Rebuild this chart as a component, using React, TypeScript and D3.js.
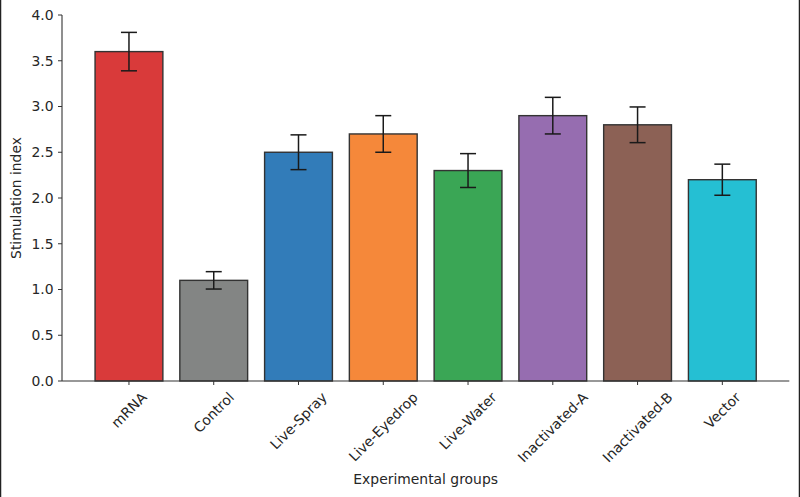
import { useEffect, useRef } from 'react'
import * as d3 from 'd3'

const W = 800, H = 497
const GROUPS = ['mRNA', 'Control', 'Live-Spray', 'Live-Eyedrop', 'Live-Water', 'Inactivated-A', 'Inactivated-B', 'Vector']
const VALUES = [3.6, 1.1, 2.5, 2.7, 2.3, 2.9, 2.8, 2.2]
const ERRORS = [0.21, 0.095, 0.19, 0.2, 0.185, 0.2, 0.195, 0.17]
const COLORS = ['#d93a3a', '#838584', '#327cb9', '#f5883a', '#3aa655', '#966db0', '#8c6155', '#25bfd3']
const Y_TICKS = [0, 0.5, 1, 1.5, 2, 2.5, 3, 3.5, 4]

const FONT = '"DejaVu Sans", sans-serif'
const FS = 13.9
const TXT = '#262626'
const AXIS = '#333333'

function textWidth(s: string) {
  const ctx = document.createElement('canvas').getContext('2d')!
  ctx.font = `${FS}px "DejaVu Sans"`
  return ctx.measureText(s).width
}

export default function App() {
  const svgRef = useRef<SVGSVGElement>(null)

  useEffect(() => {
    document.body.style.margin = '0'
    const svg = d3.select(svgRef.current)
    svg.selectAll('*').remove()

    const left = 62, right = 789.3, top = 15, bottom = 381
    const x = d3.scaleBand<string>().domain(GROUPS).range([left, right]).paddingInner(0.2).paddingOuter(0.39)
    const y = d3.scaleLinear([0, 4], [bottom, top])

    // figure border at the sides
    svg.append('line').attr('x1', 0.5).attr('x2', 0.5).attr('y1', 0).attr('y2', H).attr('stroke', '#222').attr('stroke-width', 1.5)
    svg.append('line').attr('x1', W - 0.5).attr('x2', W - 0.5).attr('y1', 0).attr('y2', H).attr('stroke', '#222').attr('stroke-width', 1.5)

    // bars
    GROUPS.forEach((g, i) => {
      svg.append('rect')
        .attr('x', x(g)!).attr('y', y(VALUES[i]))
        .attr('width', x.bandwidth()).attr('height', y(0) - y(VALUES[i]))
        .attr('fill', COLORS[i]).attr('stroke', '#333').attr('stroke-width', 1.4)
    })

    // error bars
    GROUPS.forEach((g, i) => {
      const cx = x(g)! + x.bandwidth() / 2
      const y1 = y(VALUES[i] + ERRORS[i]), y2 = y(VALUES[i] - ERRORS[i])
      const e = svg.append('g').attr('stroke', '#1a1a1a').attr('stroke-width', 1.5)
      e.append('line').attr('x1', cx).attr('x2', cx).attr('y1', y1).attr('y2', y2)
      e.append('line').attr('x1', cx - 8).attr('x2', cx + 8).attr('y1', y1).attr('y2', y1)
      e.append('line').attr('x1', cx - 8).attr('x2', cx + 8).attr('y1', y2).attr('y2', y2)
    })

    // spines
    svg.append('line').attr('x1', left).attr('x2', left).attr('y1', top).attr('y2', bottom).attr('stroke', AXIS).attr('stroke-width', 1.1)
    svg.append('line').attr('x1', left).attr('x2', right).attr('y1', bottom).attr('y2', bottom).attr('stroke', AXIS).attr('stroke-width', 1.1)

    // y ticks
    Y_TICKS.forEach((t) => {
      svg.append('line').attr('x1', left - 4).attr('x2', left).attr('y1', y(t)).attr('y2', y(t)).attr('stroke', AXIS).attr('stroke-width', 1)
      svg.append('text').attr('x', left - 8.5).attr('y', y(t)).attr('dy', '0.35em')
        .attr('text-anchor', 'end').attr('font-family', FONT).attr('font-size', FS).attr('fill', TXT)
        .text(d3.format('.1f')(t))
    })

    // x ticks + rotated labels (bbox centred under tick)
    const s = Math.SQRT1_2
    GROUPS.forEach((g) => {
      const cx = x(g)! + x.bandwidth() / 2
      svg.append('line').attr('x1', cx).attr('x2', cx).attr('y1', bottom).attr('y2', bottom + 4).attr('stroke', AXIS).attr('stroke-width', 1)
      const L = textWidth(g)
      const h = FS * 1.17
      const cy = bottom + 8 + (L + h) * s / 2
      svg.append('text').attr('transform', `translate(${cx},${cy}) rotate(-45)`)
        .attr('text-anchor', 'middle').attr('dy', '0.35em')
        .attr('font-family', FONT).attr('font-size', FS).attr('fill', TXT)
        .text(g)
    })

    // axis labels
    svg.append('text').attr('x', (left + right) / 2).attr('y', 479).attr('dy', '0.35em')
      .attr('text-anchor', 'middle').attr('font-family', FONT).attr('font-size', FS).attr('fill', TXT)
      .text('Experimental groups')
    svg.append('text').attr('transform', `translate(16,${(top + bottom) / 2}) rotate(-90)`).attr('dy', '0.35em')
      .attr('text-anchor', 'middle').attr('font-family', FONT).attr('font-size', FS).attr('fill', TXT)
      .text('Stimulation index')
  }, [])

  return (
    <div style={{ position: 'absolute', left: 0, top: 0 }}>
      <svg ref={svgRef} width={W} height={H} style={{ display: 'block', background: '#fff' }} />
    </div>
  )
}
